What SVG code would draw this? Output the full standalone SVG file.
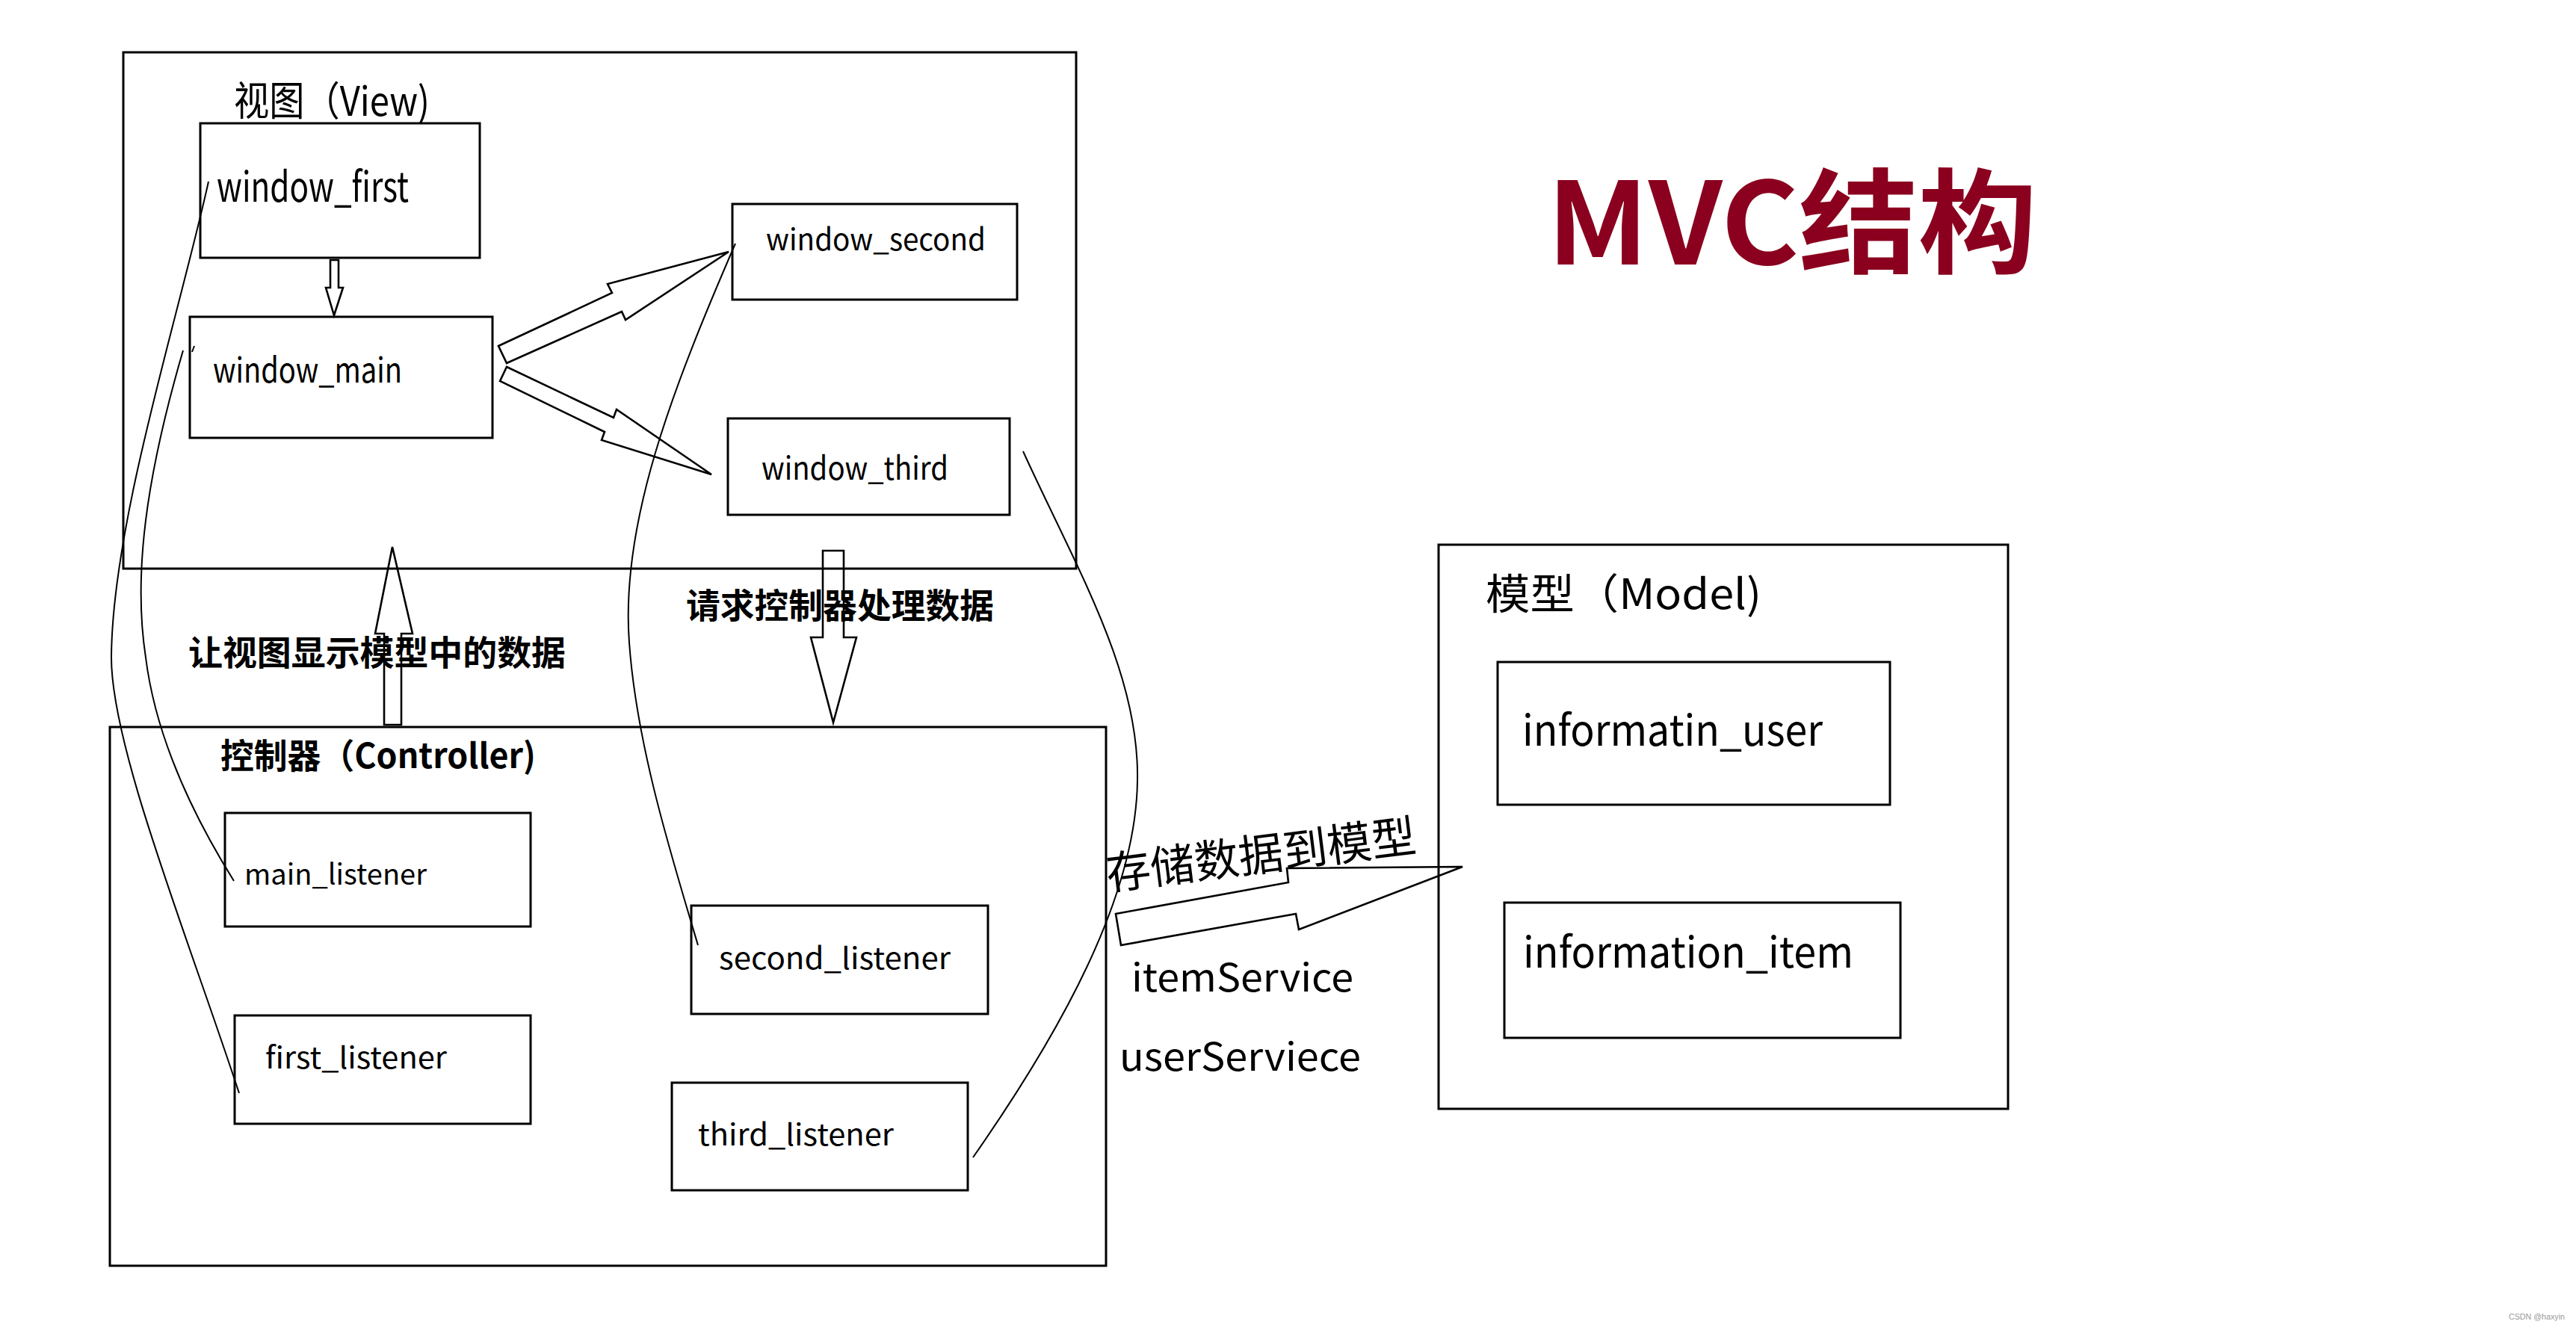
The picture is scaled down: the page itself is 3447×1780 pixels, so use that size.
<svg xmlns="http://www.w3.org/2000/svg" width="3447" height="1780" viewBox="0 0 3447 1780">
<style>
.box{fill:none;stroke:#000;stroke-width:3}
.ln{fill:none;stroke:#000;stroke-width:2}
.arr{fill:none;stroke:#000;stroke-width:2.6;stroke-linejoin:miter}
.t{font-family:"Noto Sans CJK SC","Noto Sans",sans-serif;fill:#000}
.b{font-weight:bold}
</style>
<rect width="3447" height="1780" fill="#fff"/>

<g id="view">
<rect class="box" x="165" y="70" width="1275" height="691"/>
<text class="t" x="313" y="155" font-size="54" textLength="262" lengthAdjust="spacingAndGlyphs">视图（View)</text>
</g>
<g id="window_first">
<rect class="box" x="268" y="165" width="374" height="180"/>
<text class="t" x="290" y="270" font-size="56" textLength="257" lengthAdjust="spacingAndGlyphs">window_first</text>
</g>
<g id="window_main">
<rect class="box" x="254" y="424" width="405" height="162"/>
<text class="t" x="285" y="512" font-size="46" textLength="253" lengthAdjust="spacingAndGlyphs">window_main</text>
</g>
<g id="window_second">
<rect class="box" x="980" y="273" width="381" height="128"/>
<text class="t" x="1025" y="335" font-size="40" textLength="294" lengthAdjust="spacingAndGlyphs">window_second</text>
</g>
<g id="window_third">
<rect class="box" x="974" y="560" width="377" height="129"/>
<text class="t" x="1019" y="642" font-size="43" textLength="250" lengthAdjust="spacingAndGlyphs">window_third</text>
</g>

<g id="controller">
<rect class="box" x="147" y="973" width="1333" height="721"/>
<text class="t b" x="295" y="1028" font-size="46" textLength="422" lengthAdjust="spacingAndGlyphs">控制器（Controller)</text>
</g>
<g id="main_listener">
<rect class="box" x="301" y="1088" width="409" height="152"/>
<text class="t" x="327" y="1184" font-size="38" textLength="244" lengthAdjust="spacingAndGlyphs">main_listener</text>
</g>
<g id="first_listener">
<rect class="box" x="314" y="1359" width="396" height="145"/>
<text class="t" x="355" y="1430" font-size="40" textLength="243" lengthAdjust="spacingAndGlyphs">first_listener</text>
</g>
<g id="second_listener">
<rect class="box" x="925" y="1212" width="397" height="145"/>
<text class="t" x="962" y="1297" font-size="40" textLength="310" lengthAdjust="spacingAndGlyphs">second_listener</text>
</g>
<g id="third_listener">
<rect class="box" x="899" y="1449" width="396" height="144"/>
<text class="t" x="934" y="1533" font-size="40" textLength="262" lengthAdjust="spacingAndGlyphs">third_listener</text>
</g>

<g id="model">
<rect class="box" x="1925" y="729" width="762" height="755"/>
<text class="t" x="1988" y="815" font-size="56" textLength="369" lengthAdjust="spacingAndGlyphs">模型（Model)</text>
</g>
<g id="informatin_user">
<rect class="box" x="2004" y="886" width="525" height="191"/>
<text class="t" x="2037" y="998" font-size="58" textLength="402" lengthAdjust="spacingAndGlyphs">informatin_user</text>
</g>
<g id="information_item">
<rect class="box" x="2013" y="1208" width="530" height="181"/>
<text class="t" x="2038" y="1295" font-size="58" textLength="442" lengthAdjust="spacingAndGlyphs">information_item</text>
</g>

<g id="title">
<text class="t b" x="2070" y="354" font-size="152" style="fill:#8a001e" textLength="656" lengthAdjust="spacingAndGlyphs">MVC结构</text>
</g>

<g id="connectors">
<path class="ln" d="M279,243 C240,420 150,700 149,880 C149,1000 250,1250 320,1463"/>
<path class="ln" d="M245,469 C195,640 178,770 195,880 C210,1000 270,1110 313,1179"/>
<path class="ln" d="M257,471 L260,463"/>
<path class="ln" d="M984,326 C900,520 830,700 842,860 C852,1000 900,1150 934,1265"/>
<path class="ln" d="M1369,604 C1440,760 1525,900 1522,1045 C1520,1200 1420,1380 1302,1549"/>

<polygon class="arr" points="442,348 453,348 453,385 459,385 447,422 436,385 442,385"/>
<polygon class="arr" points="667,463 819,392 813,380 975,337 837,428 832,417 678,486"/>
<polygon class="arr" points="678,491 821,559 825,548 952,635 805,589 809,578 669,510"/>
<polygon class="arr" points="514,970 514,848 502,848 525,732 552,848 537,848 537,970"/>
<polygon class="arr" points="1101,737 1129,737 1129,853 1146,853 1115,967 1085,853 1101,853"/>
<polygon class="arr" points="1493,1223 1724,1181 1722,1162 1957,1160 1738,1244 1734,1223 1500,1265"/>

<text class="t b" x="252" y="890" font-size="46" textLength="505" lengthAdjust="spacingAndGlyphs">让视图显示模型中的数据</text>
<text class="t b" x="918" y="827" font-size="46" textLength="412" lengthAdjust="spacingAndGlyphs">请求控制器处理数据</text>
<text class="t" x="1483" y="1191" font-size="60" textLength="417" lengthAdjust="spacingAndGlyphs" transform="rotate(-7.1 1483 1191)">存储数据到模型</text>
<text class="t" x="1514" y="1327" font-size="52" textLength="297" lengthAdjust="spacingAndGlyphs">itemService</text>
<text class="t" x="1498" y="1433" font-size="52" textLength="323" lengthAdjust="spacingAndGlyphs">userServiece</text>
</g>

<text x="3357" y="1766" font-family="Liberation Sans, sans-serif" font-size="10" fill="#999" textLength="75" lengthAdjust="spacingAndGlyphs">CSDN @haxyin</text>
</svg>
